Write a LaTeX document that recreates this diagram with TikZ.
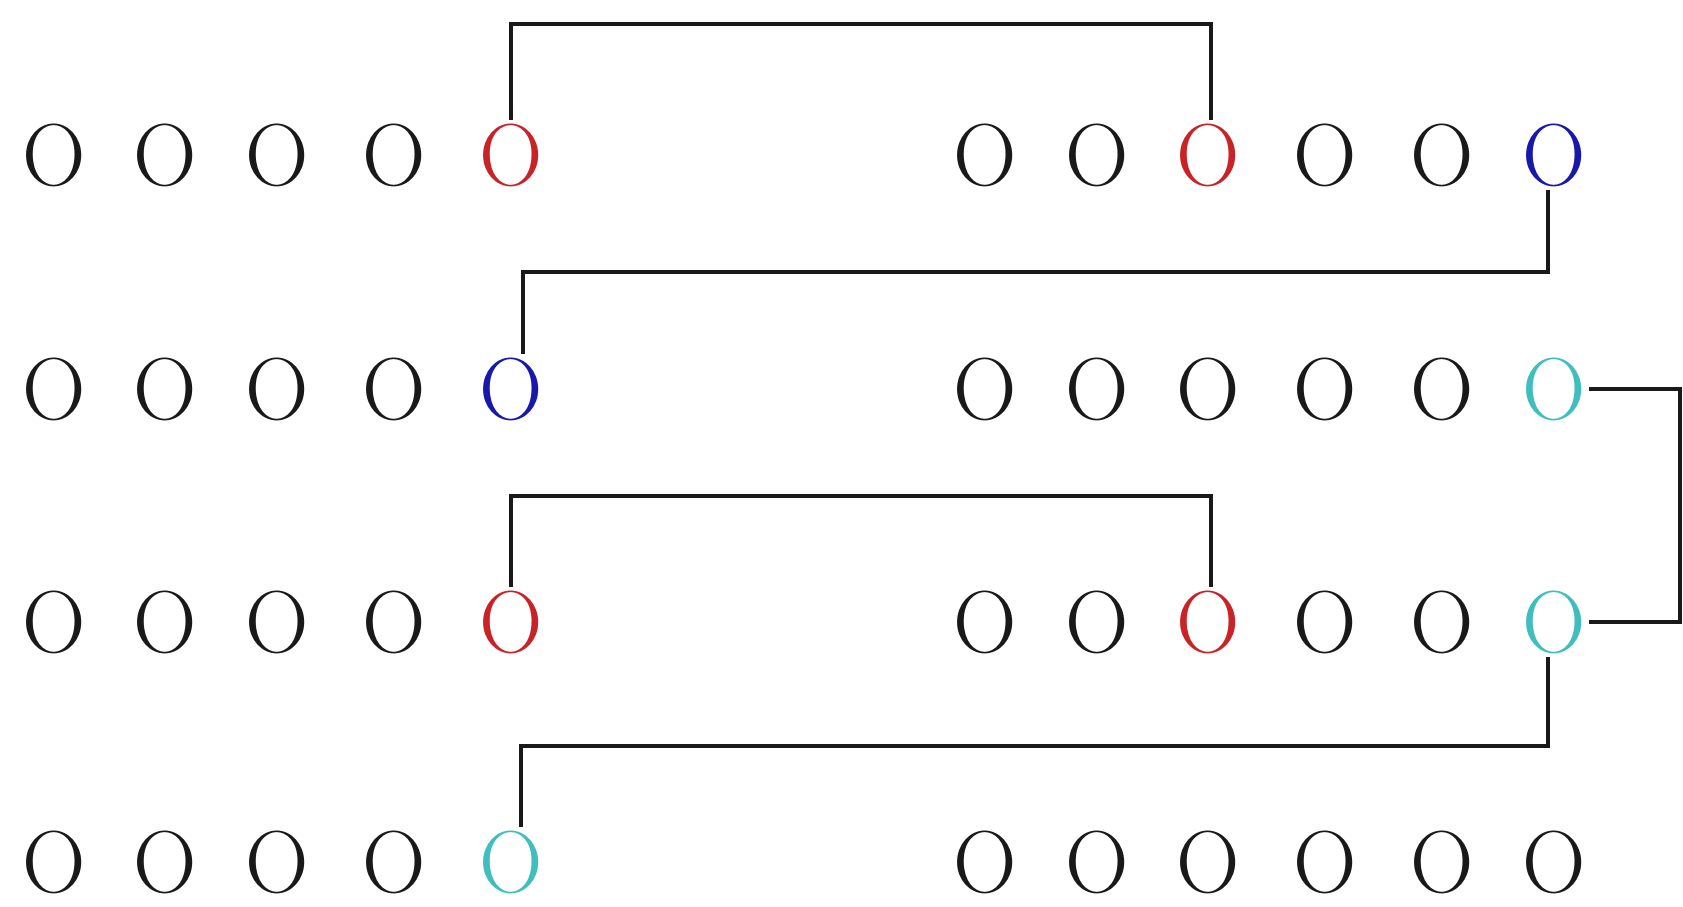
\documentclass[tikz,border=0pt]{standalone}
\definecolor{ored}{RGB}{200,36,40}
\definecolor{oblue}{RGB}{24,24,170}
\definecolor{ocyan}{RGB}{64,190,190}
\begin{document}
\begin{tikzpicture}[x=1pt,y=-1pt,
  letter/.style={inner sep=3pt, font=\fontsize{88}{88}\selectfont, text=black!90},
  link/.style={line width=3.2pt, black!90},
  cL15/.style={text=ored}, cR13/.style={text=ored}, cR16/.style={text=oblue},
  cL25/.style={text=oblue}, cR26/.style={text=ocyan},
  cL35/.style={text=ored}, cR33/.style={text=ored}, cR36/.style={text=ocyan},
  cL45/.style={text=ocyan}]
\useasboundingbox (0,0) rectangle (1683,907);
\foreach \r/\y in {1/155,2/389,3/622,4/862}{
  \foreach \c/\x in {1/54,2/165,3/277,4/394,5/511}
    \node[letter, cL\r\c/.try] (L\r\c) at (\x,\y) {O};
  \foreach \c/\x in {1/985,2/1097,3/1208,4/1325,5/1442,6/1554}
    \node[letter, cR\r\c/.try] (R\r\c) at (\x,\y) {O};
}
\coordinate (h1) at (0,24);
\coordinate (h2) at (0,272);
\coordinate (h3) at (0,496);
\coordinate (h4) at (0,746);
\coordinate (v1) at (1680,0);
\draw[link] (L15.north) -- (L15.north |- h1) -| ([xshift=3pt]R13.north);
\draw[link] ([xshift=-6pt]R16.south) -- ([xshift=-6pt]R16.south |- h2) -| ([xshift=12pt]L25.north);
\draw[link] (R26.east) -- (R26.east -| v1) |- (R36.east);
\draw[link] (L35.north) -- (L35.north |- h3) -| ([xshift=3pt]R33.north);
\draw[link] ([xshift=-6pt]R36.south) -- ([xshift=-6pt]R36.south |- h4) -| ([xshift=10pt]L45.north);
\end{tikzpicture}
\end{document}
